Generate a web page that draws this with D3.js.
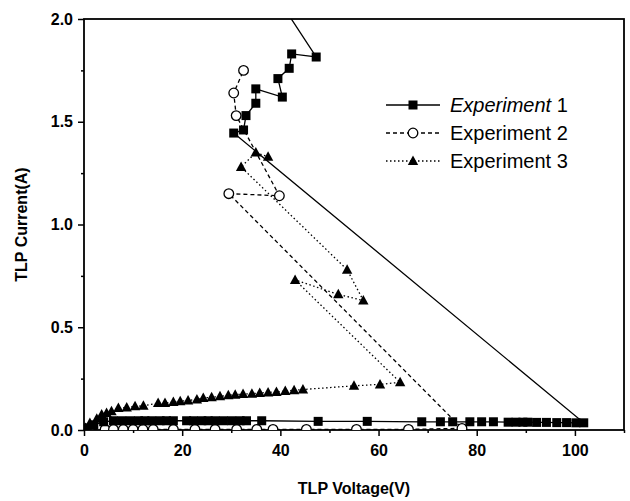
<!DOCTYPE html>
<html><head><meta charset="utf-8">
<script src="https://cdn.jsdelivr.net/npm/d3@7"></script>
<style>body{margin:0;background:#fff}svg{display:block}</style>
</head><body><svg id="c" width="630" height="501"></svg>
<script>
// Experiment 1 (solid, filled squares)
const exp1V = [0.5,2,4,6.0,7.7,9.4,11.1,12.4,13.8,15.5,16.8,18.2,20.9,22.3,24.0,25.3,26.7,28.4,30.1,31.8,33.1,36.2,47.7,57.7,68.8,72.6,75.1,78.6,81,83.4,86.4,88,89.4,90.4,92.2,94.2,96.3,98.3,100.2,101.8,
  30.5,32.5,33,35,35,40.4,39.5,41.8,42.3,47.3,39.5];
const exp1I = [0.01,0.025,0.04,0.045,0.045,0.045,0.045,0.045,0.045,0.045,0.045,0.045,0.045,0.045,0.045,0.045,0.045,0.045,0.045,0.045,0.045,0.045,0.042,0.042,0.04,0.04,0.04,0.04,0.04,0.04,0.038,0.038,0.038,0.038,0.037,0.037,0.036,0.036,0.035,0.035,
  1.445,1.46,1.53,1.59,1.66,1.62,1.71,1.76,1.83,1.815,2.1];
// Experiment 2 (dashed, open circles)
const exp2V = [0.5,4.3,6,8,10,12,14.1,18.2,22.6,26.7,31.1,35.2,38.5,45.3,55.5,66.1,77,29.5,39.8,31,30.5,32.5];
const exp2I = [0.003,0.003,0.003,0.003,0.003,0.003,0.003,0.003,0.003,0.003,0.003,0.003,0.003,0.003,0.003,0.003,0.008,1.15,1.14,1.53,1.64,1.75];
// Experiment 3 (dotted, filled triangles)
const exp3V = [0.3,1.2,2.6,3.6,4.6,5.6,7.0,8.7,10.4,12.1,15.1,16.5,18.2,19.6,21.2,23.0,24.3,26.0,27.7,29.4,30.8,32.4,34.2,35.8,37.5,39.2,41,42.8,44.6,55,60.3,64.4,43,51.8,56.9,53.6,32,35,37.5];
const exp3I = [0.01,0.034,0.055,0.075,0.083,0.091,0.107,0.110,0.115,0.118,0.131,0.131,0.136,0.14,0.144,0.148,0.156,0.159,0.164,0.169,0.172,0.175,0.177,0.18,0.183,0.185,0.19,0.193,0.197,0.215,0.222,0.232,0.73,0.66,0.63,0.78,1.28,1.35,1.33];

const xTicks = [0,20,40,60,80,100];
const yTicks = [0.0,0.5,1.0,1.5,2.0];
const seriesNames = ["Experiment 1","Experiment 2","Experiment 3"];

const svg = d3.select("#c");
const L = 84, R = 624, T = 19, B = 430;
const x = d3.scaleLinear().domain([0,110]).range([L,R]);
const y = d3.scaleLinear().domain([0,2]).range([B,T]);

svg.append("defs").append("clipPath").attr("id","clip")
  .append("rect").attr("x",L).attr("y",T).attr("width",R-L).attr("height",B-T);

const font = "Arial, 'Liberation Sans', sans-serif";

// axes
const xAxis = d3.axisBottom(x).tickValues(xTicks).tickFormat(d3.format("d")).tickSize(6).tickPadding(9);
const gx = svg.append("g").attr("transform",`translate(0,${B})`).call(xAxis);
const gxm = svg.append("g").attr("transform",`translate(0,${B})`)
  .call(d3.axisBottom(x).tickValues([10,30,50,70,90,110]).tickFormat("").tickSize(3));
const yAxis = d3.axisLeft(y).tickValues(yTicks).tickFormat(d3.format(".1f")).tickSize(6).tickPadding(5);
const gy = svg.append("g").attr("transform",`translate(${L},0)`).call(yAxis);
const gym = svg.append("g").attr("transform",`translate(${L},0)`)
  .call(d3.axisLeft(y).tickValues([0.25,0.75,1.25,1.75]).tickFormat("").tickSize(3));
[gx,gxm,gy,gym].forEach(g=>{
  g.select(".domain").remove();
  g.selectAll("line").attr("stroke","#000").attr("stroke-width",1.5);
  g.selectAll("text").attr("font-family",font).attr("font-weight","bold").attr("font-size",16).attr("fill","#000");
});
// frame
svg.append("rect").attr("x",L).attr("y",T).attr("width",R-L).attr("height",B-T)
  .attr("fill","none").attr("stroke","#000").attr("stroke-width",1.8);

// titles
svg.append("text").attr("x",(L+R)/2).attr("y",494).attr("text-anchor","middle")
  .attr("font-family",font).attr("font-weight","bold").attr("font-size",16).text("TLP Voltage(V)");
svg.append("text").attr("transform",`translate(27,${(T+B)/2}) rotate(-90)`).attr("text-anchor","middle")
  .attr("font-family",font).attr("font-weight","bold").attr("font-size",16).text("TLP Current(A)");

const plot = svg.append("g").attr("clip-path","url(#clip)");
const line = d3.line().x(d=>x(d[0])).y(d=>y(d[1]));
const zip = (a,b)=>a.map((v,i)=>[v,b[i]]);
const d1 = zip(exp1V,exp1I), d2 = zip(exp2V,exp2I), d3d = zip(exp3V,exp3I);

const styles = [
  {data:d1, dash:null, sym:"square"},
  {data:d2, dash:"4,3", sym:"circle"},
  {data:d3d, dash:"1.5,2.5", sym:"triangle"}
];
function marker(g, sym, cx, cy){
  if(sym==="square") g.append("rect").attr("x",cx-4.5).attr("y",cy-4.5).attr("width",9).attr("height",9).attr("fill","#000");
  else if(sym==="circle") g.append("circle").attr("cx",cx).attr("cy",cy).attr("r",4.8).attr("fill","#fff").attr("stroke","#000").attr("stroke-width",1.3);
  else g.append("path").attr("d",`M${cx},${cy-5.5}L${cx+5.2},${cy+4}L${cx-5.2},${cy+4}Z`).attr("fill","#000");
}
styles.forEach(s=>{
  plot.append("path").datum(s.data).attr("d",line).attr("fill","none").attr("stroke","#000")
    .attr("stroke-width",1.3).attr("stroke-dasharray",s.dash);
});
[1,0,2].forEach(i=>{
  const s = styles[i];
  s.data.forEach(p=>marker(plot, s.sym, x(p[0]), y(p[1])));
});

// legend
const lg = svg.append("g");
const rows = [105,133,161];
styles.forEach((s,i)=>{
  lg.append("line").attr("x1",386).attr("x2",440).attr("y1",rows[i]).attr("y2",rows[i])
    .attr("stroke","#000").attr("stroke-width",1.3).attr("stroke-dasharray",s.dash);
  marker(lg, s.sym, 413, rows[i]);
  const t = lg.append("text").attr("x",450).attr("y",rows[i]+7).attr("font-family",font).attr("font-size",20);
  if(i===0){
    t.append("tspan").attr("font-style","italic").text("Experiment");
    t.append("tspan").text(" 1");
  } else t.text(seriesNames[i]);
});
</script></body></html>
